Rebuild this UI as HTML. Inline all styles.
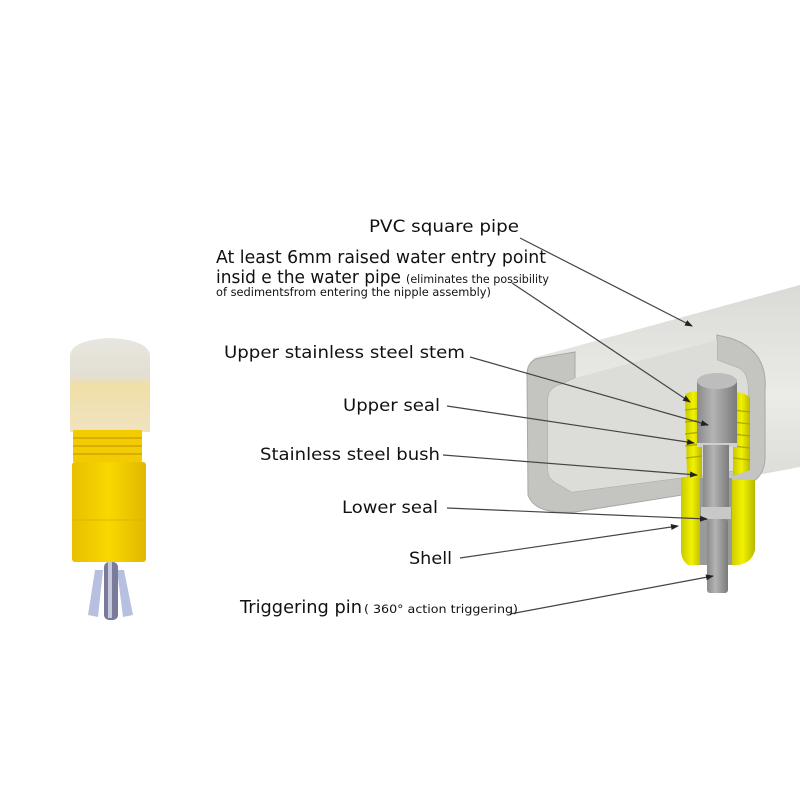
<!DOCTYPE html>
<html><head><meta charset="utf-8"><style>
html,body{margin:0;padding:0;background:#fff;}
svg{display:block;}
text{font-family:"DejaVu Sans","Liberation Sans",sans-serif;fill:#111;}
</style></head><body>
<svg width="800" height="800" viewBox="0 0 800 800" xmlns="http://www.w3.org/2000/svg">
<defs>
<marker id="ar" markerWidth="8" markerHeight="8" refX="7" refY="4" orient="auto" markerUnits="userSpaceOnUse">
<path d="M0,1 L8,4 L0,7 Z" fill="#222"/></marker>
<linearGradient id="stem" x1="0" x2="1"><stop offset="0" stop-color="#8a8a8a"/><stop offset="0.4" stop-color="#b4b4b4"/><stop offset="1" stop-color="#7a7a7a"/></linearGradient>
<linearGradient id="yel" x1="0" x2="1"><stop offset="0" stop-color="#c8c800"/><stop offset="0.5" stop-color="#f2f200"/><stop offset="1" stop-color="#b8b800"/></linearGradient>
<linearGradient id="pipe" x1="0" y1="0" x2="0" y2="1"><stop offset="0" stop-color="#dadad6"/><stop offset="0.5" stop-color="#ebebe7"/><stop offset="1" stop-color="#d6d6d2"/></linearGradient>
<linearGradient id="cap" x1="0" y1="0" x2="0" y2="1"><stop offset="0" stop-color="#e8e6df"/><stop offset="0.4" stop-color="#e2dfd4"/><stop offset="0.5" stop-color="#f1dfa8"/><stop offset="1" stop-color="#efe2c0"/></linearGradient>
<linearGradient id="ybody" x1="0" x2="1"><stop offset="0" stop-color="#e8c000"/><stop offset="0.5" stop-color="#f8d800"/><stop offset="1" stop-color="#e0b800"/></linearGradient>
</defs>

<path d="M70,355 Q72,340 110,338 Q148,340 150,355 L150,432 L70,432 Z" fill="url(#cap)"/>
<rect x="73" y="430" width="69" height="32" fill="#f2cc00"/>
<g stroke="#d8ac00" stroke-width="2"><line x1="73" y1="438" x2="142" y2="438"/><line x1="73" y1="446" x2="142" y2="446"/><line x1="73" y1="454" x2="142" y2="454"/></g>
<rect x="72" y="462" width="74" height="100" rx="3" fill="url(#ybody)"/>
<line x1="72" y1="520" x2="146" y2="520" stroke="#e0b400" stroke-width="1"/>
<path d="M95,570 L88,615 L98,617 L103,570 Z" fill="#b8c0e0"/>
<path d="M124,570 L133,615 L123,617 L117,570 Z" fill="#b8c0e0"/>
<rect x="104" y="562" width="14" height="58" rx="5" fill="#7a7a9a"/>
<rect x="108" y="562" width="4" height="56" fill="#c8c8dc"/>

<path d="M533,358 L800,285 L800,467 L570,510 Z" fill="url(#pipe)"/>
<path d="M540,358 L575,352 L575,378 L560,385 Q548,388 548,400 L548,470 Q548,480 560,485 L572,492 L740,470 Q748,468 748,458 L748,390 Q748,372 738,368 L717,360 L717,335 L730,338 Q768,350 765,390 L765,460 Q763,480 745,485 L575,512 Q535,515 528,495 L527,375 Q527,360 540,358 Z" fill="#c4c4c0" stroke="#a8a8a4" stroke-width="1"/>
<path d="M575,378 L717,340 L717,360 L738,368 Q748,372 748,390 L748,458 Q748,468 740,470 L572,492 L560,485 Q548,480 548,470 L548,400 Q548,388 560,385 Z" fill="#dcdcd8"/>

<path d="M685,395 Q690,390 702,392 L702,478 L687,478 Z" fill="url(#yel)"/>
<path d="M733,392 Q745,392 750,398 L750,470 L733,476 Z" fill="url(#yel)"/>
<g stroke="#a8a800" stroke-width="1.2">
<line x1="685" y1="410" x2="702" y2="408"/><line x1="685" y1="422" x2="702" y2="420"/><line x1="685" y1="434" x2="702" y2="432"/><line x1="685" y1="446" x2="702" y2="444"/><line x1="686" y1="458" x2="702" y2="456"/>
<line x1="733" y1="410" x2="750" y2="412"/><line x1="733" y1="422" x2="750" y2="424"/><line x1="733" y1="434" x2="750" y2="436"/><line x1="733" y1="446" x2="750" y2="448"/><line x1="733" y1="458" x2="750" y2="460"/>
</g>
<path d="M681,478 L702,478 L702,565 L688,565 Q681,560 681,550 Z" fill="url(#yel)"/>
<path d="M730,480 L755,480 L755,550 Q752,563 738,565 L730,565 Z" fill="url(#yel)"/>
<rect x="700" y="478" width="32" height="87" fill="#9a9a9a"/>
<rect x="697" y="380" width="40" height="65" fill="url(#stem)"/>
<ellipse cx="717" cy="381" rx="20" ry="8" fill="#bdbdbd"/>
<rect x="697" y="443" width="40" height="4" fill="#cfcfcf"/>
<rect x="703" y="445" width="26" height="62" fill="url(#stem)"/>
<rect x="701" y="507" width="30" height="12" fill="#c8c8c8"/>
<rect x="707" y="519" width="21" height="74" rx="3" fill="url(#stem)"/>

<g stroke="#444" stroke-width="1.2" fill="none" marker-end="url(#ar)">
<line x1="520" y1="238" x2="692" y2="326"/>
<line x1="512" y1="283" x2="690" y2="402"/>
<line x1="470" y1="357" x2="708" y2="425"/>
<line x1="447" y1="406" x2="694" y2="443"/>
<line x1="443" y1="455" x2="697" y2="475"/>
<line x1="447" y1="508" x2="707" y2="519"/>
<line x1="460" y1="558" x2="678" y2="526"/>
<line x1="510" y1="614" x2="713" y2="576"/>
</g>

<text x="369" y="232" font-size="17" textLength="150" lengthAdjust="spacingAndGlyphs">PVC square pipe</text>
<text x="216" y="263" font-size="18" textLength="330" lengthAdjust="spacingAndGlyphs">At least 6mm raised water entry point</text>
<text x="216" y="283" font-size="18" textLength="185" lengthAdjust="spacingAndGlyphs">insid e the water pipe</text>
<text x="406" y="283" font-size="11.5" textLength="143" lengthAdjust="spacingAndGlyphs">(eliminates the possibility</text>
<text x="216" y="296" font-size="11.5" textLength="275" lengthAdjust="spacingAndGlyphs">of  sedimentsfrom entering the nipple assembly)</text>
<text x="224" y="358" font-size="17" textLength="241" lengthAdjust="spacingAndGlyphs">Upper stainless steel stem</text>
<text x="343" y="411" font-size="17" textLength="97" lengthAdjust="spacingAndGlyphs">Upper seal</text>
<text x="260" y="460" font-size="17" textLength="180" lengthAdjust="spacingAndGlyphs">Stainless steel bush</text>
<text x="342" y="513" font-size="17" textLength="96" lengthAdjust="spacingAndGlyphs">Lower seal</text>
<text x="409" y="564" font-size="17" textLength="43" lengthAdjust="spacingAndGlyphs">Shell</text>
<text x="240" y="613" font-size="18" textLength="122" lengthAdjust="spacingAndGlyphs">Triggering pin</text>
<text x="364" y="613" font-size="11.5" textLength="154" lengthAdjust="spacingAndGlyphs">( 360° action triggering)</text>
</svg>
</body></html>
